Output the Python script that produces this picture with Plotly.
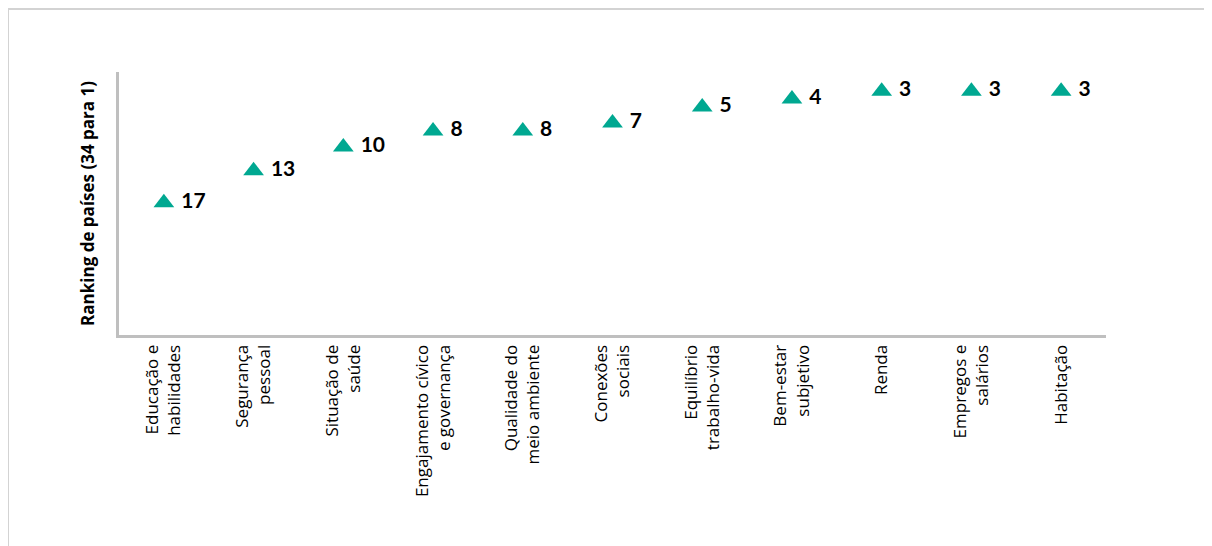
import plotly.graph_objects as go

categories = [
    "Educação e<br>habilidades",
    "Segurança<br>pessoal",
    "Situação de<br>saúde",
    "Engajamento cívico<br>e governança",
    "Qualidade do<br>meio ambiente",
    "Conexões<br>sociais",
    "Equilíbrio<br>trabalho-vida",
    "Bem-estar<br>subjetivo",
    "Renda",
    "Empregos e<br>salários",
    "Habitação",
]
ranks = [17, 13, 10, 8, 8, 7, 5, 4, 3, 3, 3]
y_title = "Ranking de países (34 para 1)"
y_range = [33.6, 0.6]

W, H = 1212, 546
OFF = 8  # page body margin
L, T = 119 - OFF, 72 - OFF
pw, ph = 987, 263
R, B = W - L - pw, H - T - ph

fig = go.Figure(go.Scatter(
    x=categories, y=ranks, mode="markers+text",
    marker=dict(symbol="triangle-up", size=18, color="#00A891"),
    text=[" " + str(v) for v in ranks], textposition="middle right",
    textfont=dict(family="Lato, Open Sans, sans-serif", size=21, color="#000000", weight="bold"),
    cliponaxis=False, hoverinfo="skip",
))

def px_x(p):
    return (p - OFF - L) / pw

def px_y(p):
    return 1 - (p - OFF - T) / ph

fig.add_shape(type="rect", xref="paper", yref="paper",
              x0=px_x(8), x1=px_x(1209), y0=px_y(9), y1=px_y(600),
              line=dict(color="#D3D3D3", width=2), fillcolor="rgba(0,0,0,0)", layer="below")

fig.update_layout(
    width=W, height=H,
    margin=dict(l=L, r=R, t=T, b=B),
    paper_bgcolor="white", plot_bgcolor="white",
    showlegend=False,
    font=dict(family="Open Sans, sans-serif", color="#000000"),
    xaxis=dict(
        showgrid=False, zeroline=False, showline=True, linecolor="#BFBFBF", linewidth=3,
        tickangle=-90, tickfont=dict(size=17, family="Open Sans, sans-serif", color="#000000"),
        ticks="", range=[-0.5, len(categories) - 0.5],
    ),
    yaxis=dict(
        range=y_range, showgrid=False, zeroline=False, showline=True, linecolor="#BFBFBF",
        linewidth=3, showticklabels=False, ticks="",
        title=dict(text="<b>" + y_title + "</b>", font=dict(size=17, family="Open Sans, sans-serif"), standoff=18),
    ),
)

fig.write_html("out.html")
